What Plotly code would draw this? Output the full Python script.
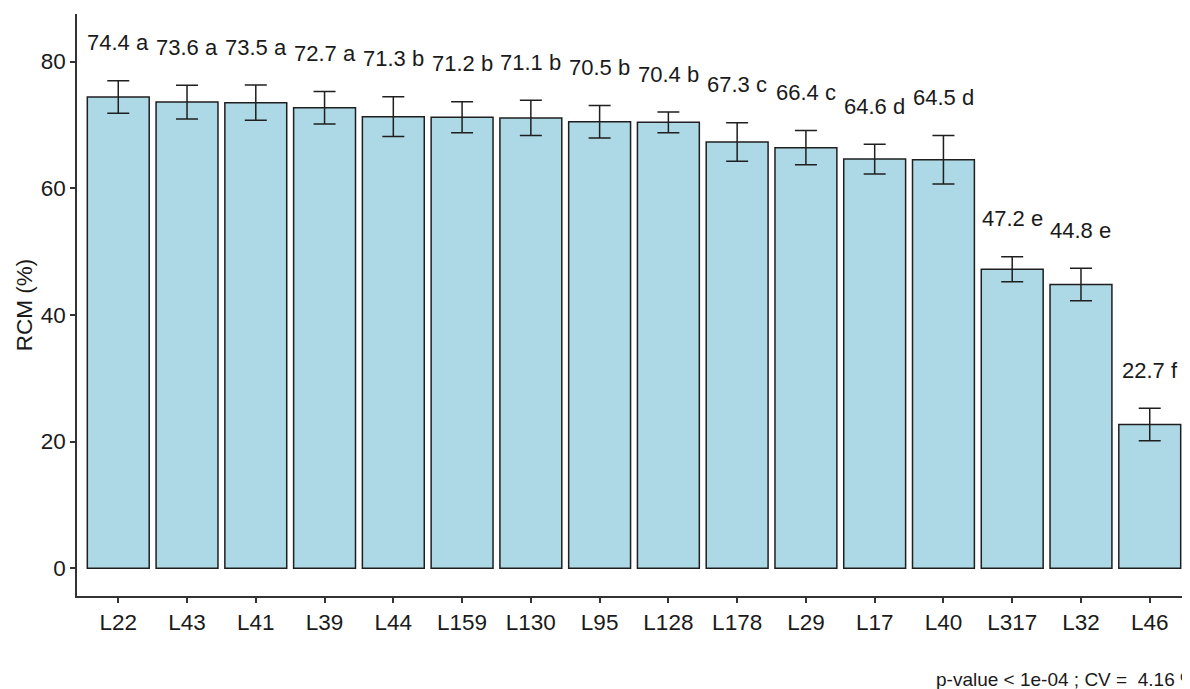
import plotly.graph_objects as go

categories = ["L22", "L43", "L41", "L39", "L44", "L159", "L130", "L95", "L128",
              "L178", "L29", "L17", "L40", "L317", "L32", "L46"]
means = [74.4, 73.6, 73.5, 72.7, 71.3, 71.2, 71.1, 70.5, 70.4,
         67.3, 66.4, 64.6, 64.5, 47.2, 44.8, 22.7]
sds = [2.55, 2.66, 2.79, 2.58, 3.13, 2.45, 2.79, 2.56, 1.63,
       3.03, 2.71, 2.34, 3.84, 1.97, 2.56, 2.55]
groups = ["a", "a", "a", "a", "b", "b", "b", "b", "b",
          "c", "c", "d", "d", "e", "e", "f"]
y_ticks = [0, 20, 40, 60, 80]
caption = "p-value < 1e-04 ; CV =  4.16 %"

FONT = "Liberation Sans, Arial, sans-serif"
TXT = "#1a1a1a"

fig = go.Figure()
fig.add_trace(go.Bar(
    x=categories, y=means,
    width=0.9,
    marker=dict(color="#ADD8E6", line=dict(color="#1f1f1f", width=1.5)),
    error_y=dict(type="data", array=sds, visible=True, color="#1f1f1f",
                 thickness=1.5, width=11),
    hoverinfo="skip",
))

for c, m, s, g in zip(categories, means, sds, groups):
    fig.add_annotation(x=c, y=m + s, text=f"{m} {g}", showarrow=False,
                       yanchor="middle", yshift=38,
                       font=dict(family=FONT, size=22, color=TXT))

fig.add_annotation(xref="paper", yref="paper", x=0.769, y=-0.1443,
                   xanchor="left", yanchor="middle", text=caption,
                   showarrow=False,
                   font=dict(family=FONT, size=19, color=TXT))

fig.update_layout(
    width=1190, height=689,
    margin=dict(l=69, r=7, t=6, b=101),
    paper_bgcolor="white", plot_bgcolor="white",
    showlegend=False,
    font=dict(family=FONT, color=TXT),
    bargap=0.1,
)
fig.update_xaxes(
    range=[-0.6, len(categories) - 0.4],
    showline=True, linecolor="#333333", linewidth=1.5,
    ticks="outside", ticklen=5, tickwidth=1.5, tickcolor="#333333",
    tickfont=dict(family=FONT, size=22.5, color=TXT),
    showgrid=False, zeroline=False, fixedrange=True,
)
fig.update_yaxes(
    range=[-4.37, 87.5],
    tickvals=y_ticks,
    showline=True, linecolor="#333333", linewidth=1.5,
    ticks="outside", ticklen=5, tickwidth=1.5, tickcolor="#333333",
    tickfont=dict(family=FONT, size=22.5, color=TXT),
    title=dict(text="RCM (%)", font=dict(family=FONT, size=22.5, color=TXT),
               standoff=2),
    showgrid=False, zeroline=False, fixedrange=True,
)

fig.write_html("out.html", config={"displayModeBar": False})
